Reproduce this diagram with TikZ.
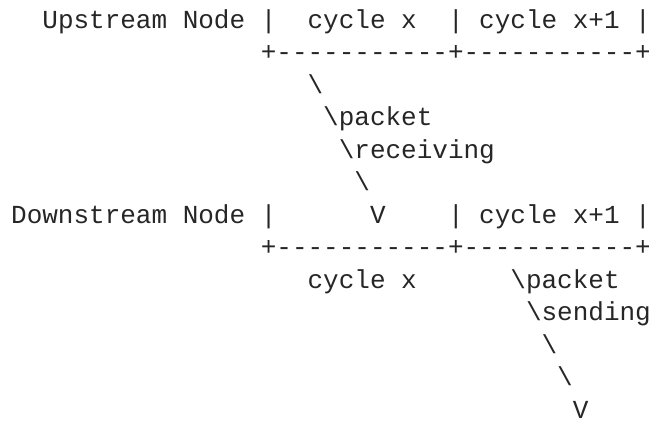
\documentclass[tikz,border=0pt]{standalone}
\usepackage{fontspec}
\setmonofont{Liberation Mono}
\tikzset{
  txt/.style={anchor=base west, inner sep=0pt, outer sep=0pt,
    font=\ttfamily\fontsize{26pt}{32pt}\selectfont, text=black!85}
}
\newcommand\placetxt[4]{\node[txt] (#1) at ({11.2pt+#2*15.6pt},{-28pt-#3*32.5pt}) {#4};}
\begin{document}
\begin{tikzpicture}
\fill[white] (0pt,0pt) rectangle (649pt,-421pt);
\useasboundingbox (0pt,0pt) rectangle (649pt,-421pt);
% row 0
\placetxt{up}{2}{0}{Upstream Node}
\placetxt{ub1}{16}{0}{|}
\placetxt{uc1}{19}{0}{cycle x}
\placetxt{ub2}{28}{0}{|}
\placetxt{uc2}{30}{0}{cycle x+1}
\placetxt{ub3}{40}{0}{|}
% row 1
\placetxt{uline}{16}{1}{+-----------+-----------+}
% rows 2-5
\placetxt{s1}{19}{2}{\textbackslash}
\placetxt{p1}{20}{3}{\textbackslash packet}
\placetxt{rc}{21}{4}{\textbackslash receiving}
\placetxt{s2}{22}{5}{\textbackslash}
% row 6
\placetxt{down}{0}{6}{Downstream Node}
\placetxt{db1}{16}{6}{|}
\placetxt{v1}{23}{6}{V}
\placetxt{db2}{28}{6}{|}
\placetxt{dc2}{30}{6}{cycle x+1}
\placetxt{db3}{40}{6}{|}
% row 7
\placetxt{dline}{16}{7}{+-----------+-----------+}
% rows 8-12
\placetxt{dc1}{19}{8}{cycle x}
\placetxt{p2}{32}{8}{\textbackslash packet}
\placetxt{sd}{33}{9}{\textbackslash sending}
\placetxt{s3}{34}{10}{\textbackslash}
\placetxt{s4}{35}{11}{\textbackslash}
\placetxt{v2}{36}{12}{V}
\end{tikzpicture}
\end{document}
